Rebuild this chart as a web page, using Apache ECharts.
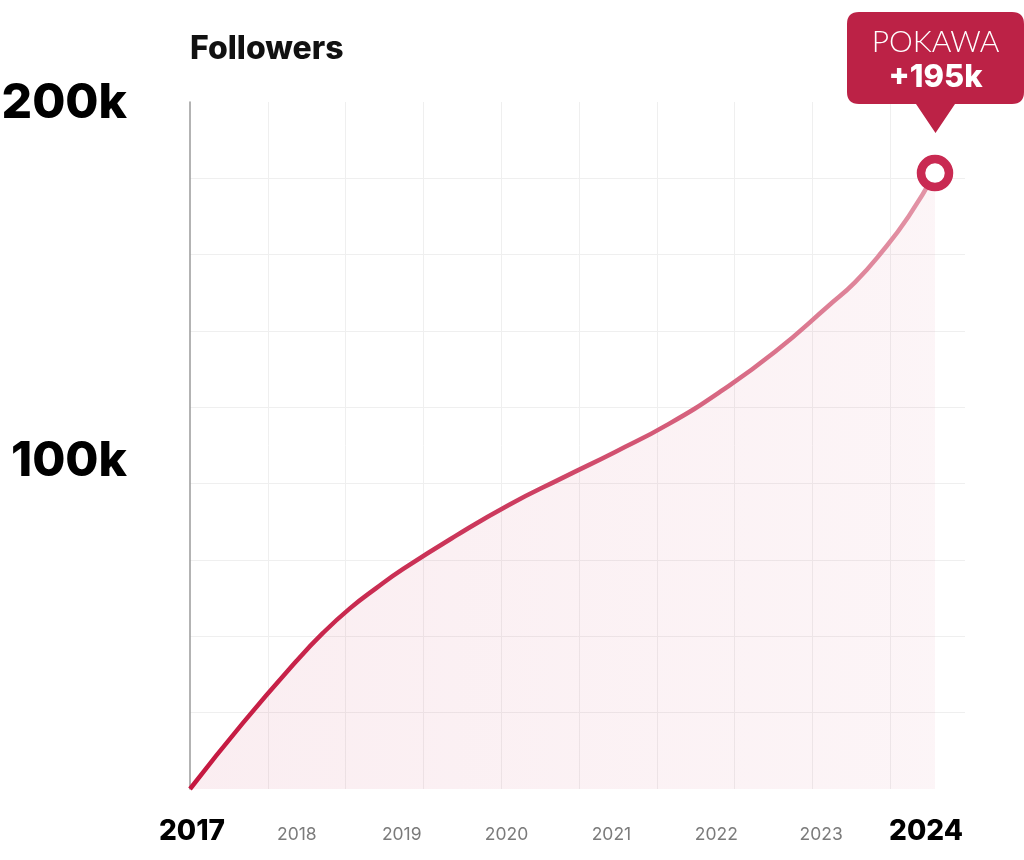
<!DOCTYPE html>
<html>
<head>
<meta charset="utf-8">
<script src="https://cdn.jsdelivr.net/npm/echarts@6/dist/echarts.min.js"></script>
<style>
html,body{margin:0;padding:0;background:#fff;}
#chart{width:1024px;height:860px;}
</style>
</head>
<body>
<div id="chart"></div>
<script>
// ---- data (followers, thousands) ----
const years = [2017, 2017.5, 2018, 2018.25, 2018.5, 2018.75, 2019, 2019.5, 2020, 2020.5, 2021, 2021.5, 2022, 2022.5, 2023, 2023.25, 2023.5, 2023.75, 2024];
const followers = [0, 21, 40.5, 49.4, 57.1, 63.6, 69.6, 80.2, 90, 98.5, 106.8, 115.6, 126.2, 138.5, 153, 160.5, 170, 181.2, 195];
const yearTicks = [2017, 2018, 2019, 2020, 2021, 2022, 2023, 2024];
const boldYears = [2017, 2024];
const yTickLabels = [100, 200];
const brand = 'POKAWA';
const gainLabel = '+195k';
const title = 'Followers';

const lastPoint = [years[years.length - 1], followers[followers.length - 1]];
const pairs = years.map((y, i) => [y, followers[i]]);

const FONT = 'Inter, "Noto Sans", sans-serif';

const chart = echarts.init(document.getElementById('chart'), null, {renderer: 'canvas'});

const calloutPath = 'path://M12,0 L165,0 Q177,0 177,12 L177,80 Q177,92 165,92 L108,92 L88.5,121 L69,92 L12,92 Q0,92 0,80 L0,12 Q0,0 12,0 Z';

chart.setOption({
  backgroundColor: '#ffffff',
  animation: false,
  title: {
    text: title,
    left: 190, top: 33, padding: 0,
    textStyle: {fontFamily: FONT, fontSize: 32, fontWeight: 800, color: '#111'}
  },
  grid: {left: 190, right: 59, top: 102, bottom: 71, containLabel: false, outerBoundsMode: 'none'},
  xAxis: [
    { // data axis
      type: 'value', position: 'bottom', min: 2017, max: 2017 + 7 * 775 / 745,
      show: true, axisLine: {show: false}, axisTick: {show: false},
      axisLabel: {show: false}, splitLine: {show: false}
    },
    { // grid lines
      type: 'value', position: 'bottom', min: 0, max: 775 / 77.8, interval: 1,
      axisLine: {show: false}, axisTick: {show: false}, axisLabel: {show: false},
      splitLine: {show: true, showMinLine: false, showMaxLine: false, lineStyle: {color: '#efefef', width: 1}}
    },
    { // year labels
      type: 'value', position: 'bottom', offset: 0, min: 2017 - 2 / 104.86, max: 2017 + 773 / 104.86,
      axisLine: {show: false}, axisTick: {show: false}, splitLine: {show: false},
      axisLabel: {
        show: true, margin: 27, customValues: yearTicks,
        formatter: v => boldYears.indexOf(v) >= 0 ? '{b|' + v + '}' : '{n|' + v + '}',
        rich: {
          b: {fontFamily: FONT, fontSize: 28, fontWeight: 800, color: '#000', lineHeight: 32},
          n: {fontFamily: FONT, fontSize: 17.5, fontWeight: 'normal', color: '#7b7b7b', lineHeight: 32, padding: [5, 0, 0, 0]}
        }
      }
    }
  ],
  yAxis: [
    { // data axis
      type: 'value', position: 'left', min: 0, max: 217.5,
      axisLine: {show: true, lineStyle: {color: '#9a9a9a', width: 1.5}},
      axisTick: {show: false}, axisLabel: {show: false}, splitLine: {show: false}
    },
    { // grid lines
      type: 'value', position: 'left', min: 0, max: 9, interval: 1,
      axisLine: {show: false}, axisTick: {show: false}, axisLabel: {show: false},
      splitLine: {show: true, showMinLine: false, showMaxLine: false, lineStyle: {color: '#efefef', width: 1}}
    },
    { // value labels
      type: 'value', position: 'left', offset: 0, min: 200 - 685 / 3.58, max: 200 + 2 / 3.58,
      axisLine: {show: false}, axisTick: {show: false}, splitLine: {show: false},
      axisLabel: {
        show: true, margin: 63, customValues: yTickLabels,
        formatter: v => v + 'k',
        fontFamily: FONT, fontSize: 48, fontWeight: 800, color: '#000'
      }
    }
  ],
  series: [
    {
      type: 'line',
      xAxisIndex: 0, yAxisIndex: 0,
      data: pairs,
      smooth: 0.5,
      showSymbol: false,
      z: 3,
      lineStyle: {
        width: 4.5,
        color: new echarts.graphic.LinearGradient(0, 0, 1, 0, [
          {offset: 0, color: '#c5173f'},
          {offset: 0.45, color: '#cd3e61'},
          {offset: 1, color: '#e396a8'}
        ])
      },
      areaStyle: {
        color: new echarts.graphic.LinearGradient(0, 0, 1, 0, [
          {offset: 0, color: 'rgba(205,60,100,0.13)'},
          {offset: 1, color: 'rgba(205,60,100,0.075)'}
        ])
      }
    },
    {
      type: 'scatter',
      xAxisIndex: 0, yAxisIndex: 0,
      data: [lastPoint],
      symbol: 'circle',
      symbolSize: 28,
      z: 5,
      itemStyle: {color: '#ffffff', borderColor: '#c92a52', borderWidth: 8.5, opacity: 1},
      markPoint: {
        silent: true,
        data: [{coord: lastPoint}],
        symbol: calloutPath,
        symbolSize: [177, 121],
        symbolOffset: [0.5, -100.5],
        symbolKeepAspect: false,
        itemStyle: {color: '#bc2246', opacity: 1},
        label: {
          show: true,
          position: 'inside',
          offset: [0, -12.5],
          formatter: '{a|' + brand + '}\n{b|' + gainLabel + '}',
          rich: {
            a: {fontFamily: 'Lato, sans-serif', fontWeight: 300, fontSize: 30, color: '#ffffff', lineHeight: 36, align: 'center'},
            b: {fontFamily: FONT, fontWeight: 800, fontSize: 31, color: '#ffffff', lineHeight: 36, align: 'center'}
          }
        }
      }
    }
  ]
});
</script>
</body>
</html>
